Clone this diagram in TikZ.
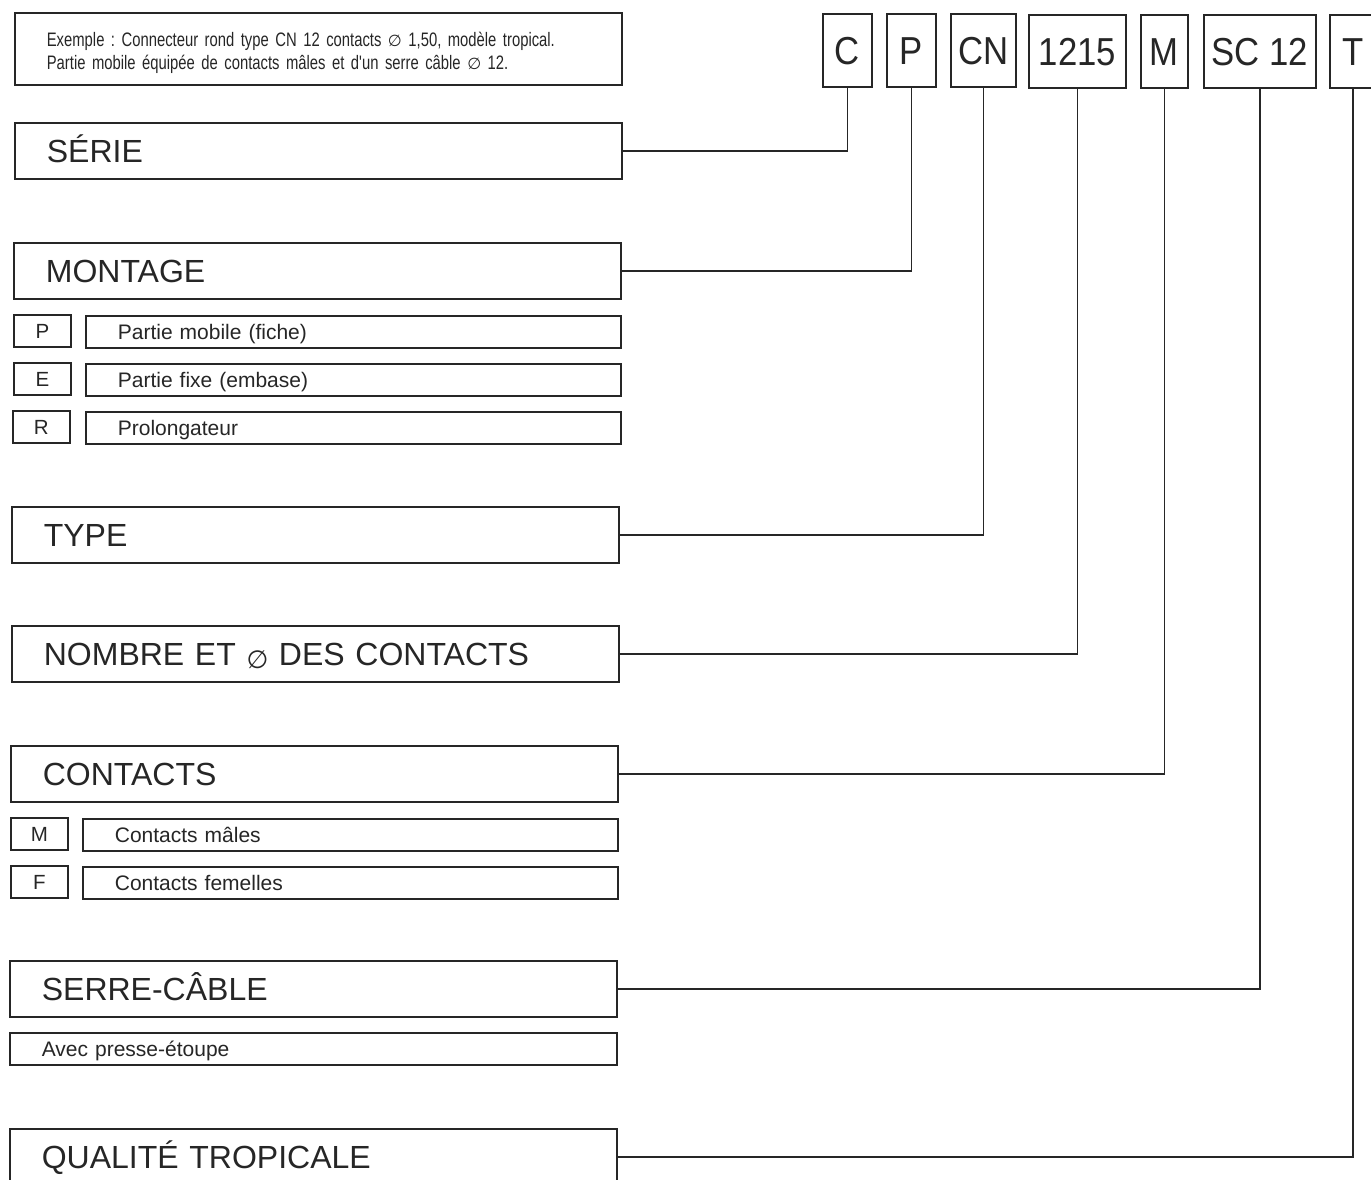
\documentclass[tikz,border=0pt]{standalone}
\usepackage{fontspec}
\setmainfont{Liberation Sans}
\newfontfamily\condfont[FakeStretch=0.76]{Liberation Sans}
\newfontfamily\codefont[FakeStretch=0.89]{Liberation Sans}
\newfontfamily\symfont{DejaVu Sans}
\definecolor{ink}{HTML}{262626}
\frenchspacing
\newcommand\dia{{\symfont\fontsize{16}{16}\selectfont ∅}}
\newcommand\bigdia{\raisebox{-3pt}{\symfont\fontsize{25}{25}\selectfont ∅}}
\begin{document}
\begin{tikzpicture}[x=1pt,y=-1pt,
  frame/.style={draw=ink, line width=1.7pt, anchor=north west, inner ysep=0pt, text=ink},
  example/.style={frame, minimum height=72pt, inner xsep=32pt, text width=543pt, align=left,
    font=\condfont\fontsize{19.5}{23}\selectfont},
  headbox/.style={frame, minimum height=56pt, inner xsep=32pt, text width=543pt, align=left,
    text height=23pt, text depth=0pt, font=\fontsize{32}{38}\selectfont},
  codebox/.style={frame, minimum height=73pt, inner xsep=0pt, text height=28pt, text depth=0pt,
    font=\codefont\fontsize{39}{44}\selectfont},
  keybox/.style={frame, minimum width=57pt, minimum height=32pt, inner xsep=0pt,
    text height=15pt, text depth=0pt, font=\fontsize{20.5}{24}\selectfont},
  descbox/.style={frame, minimum height=32pt, inner xsep=32pt, text width=471pt, align=left,
    text height=15pt, text depth=0pt, font=\fontsize{21}{25}\selectfont},
  link/.style={draw=ink, line width=1.4pt},
]
\useasboundingbox (0,0) rectangle (1371,1180);
\clip (0,0) rectangle (1371,1180);
\fill[white] (0,0) rectangle (1371,1180);

% example
\node[example] (ex) at (14,12) {\rule{0pt}{23pt}Exemple~: Connecteur rond type CN 12 contacts \dia\ 1,50, modèle tropical.\\Partie mobile équipée de contacts mâles et d'un serre câble \dia\ 12.};

% code boxes
\node[codebox, minimum width=49pt] (kC) at (822,13) {C};
\node[codebox, minimum width=49pt] (kP) at (886,13) {P};
\node[codebox, minimum width=65pt] (kCN) at (950,13) {CN};
\node[codebox, minimum width=97pt] (k1215) at (1028,14) {1215};
\node[codebox, minimum width=47pt] (kM) at (1140,14) {M};
\node[codebox, minimum width=112pt] (kSC) at (1203,14) {SC 12};
\node[codebox, minimum width=46pt] (kT) at (1329,14) {T};

% sections
\node[headbox] (serie) at (14,122) {SÉRIE};
\node[headbox] (montage) at (13,242) {MONTAGE};
\node[keybox] (mP) at (13,314) {P};
\node[descbox] (mPd) at (85,315) {Partie mobile (fiche)};
\node[keybox] (mE) at (13,362) {E};
\node[descbox] (mEd) at (85,363) {Partie fixe (embase)};
\node[keybox] (mR) at (12,410) {R};
\node[descbox] (mRd) at (85,411) {Prolongateur};
\node[headbox] (type) at (11,506) {TYPE};
\node[headbox] (nombre) at (11,625) {NOMBRE ET \bigdia\ DES CONTACTS};
\node[headbox] (contacts) at (10,745) {CONTACTS};
\node[keybox] (cM) at (10,817) {M};
\node[descbox] (cMd) at (82,818) {Contacts mâles};
\node[keybox] (cF) at (10,865) {F};
\node[descbox] (cFd) at (82,866) {Contacts femelles};
\node[headbox] (serre) at (9,960) {SERRE-CÂBLE};
\node[descbox, text width=543pt] (serred) at (9,1032) {Avec presse-étoupe};
\node[headbox] (tropic) at (9,1128) {QUALITÉ TROPICALE};

% connectors
\draw[link] (kC.south) |- (serie.east);
\draw[link] (kP.south) |- (montage.east);
\draw[link] (kCN.south) |- (type.east);
\draw[link] (k1215.south) |- (nombre.east);
\draw[link] (kM.south) |- (contacts.east);
\draw[link] (kSC.south) |- (serre.east);
\draw[link] (kT.south) |- (tropic.east);
\end{tikzpicture}
\end{document}
